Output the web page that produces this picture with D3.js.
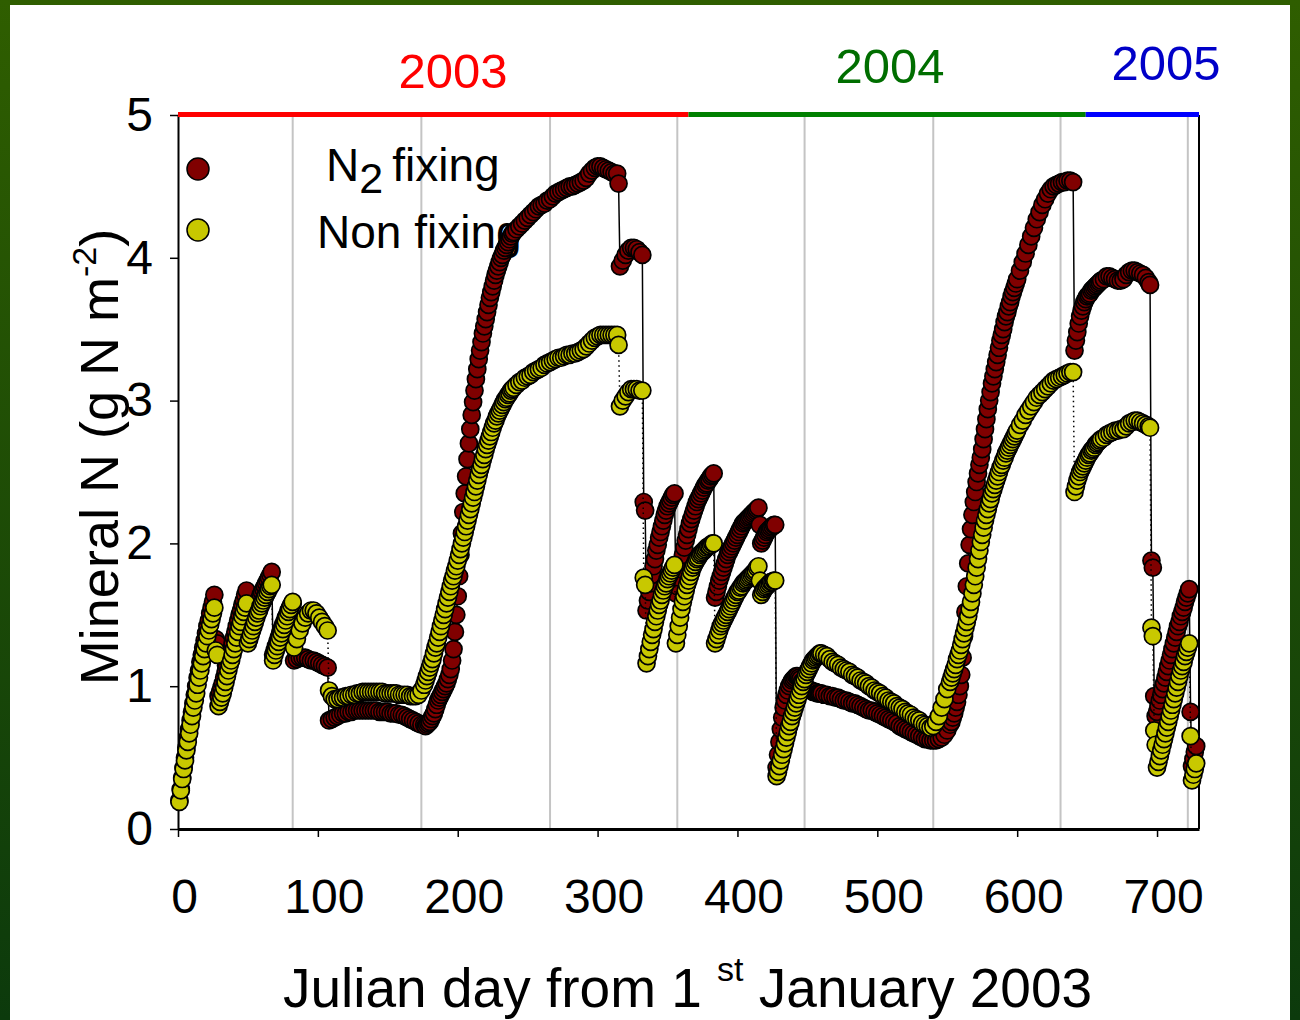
<!doctype html>
<html lang="en">
<head>
  <meta charset="utf-8">
  <title>Mineral N, N2 fixing vs non fixing</title>
  <script src="https://cdn.jsdelivr.net/npm/d3@7"></script>
  <style>
    body { margin: 0; background: #fff; }
    svg { display: block; font-family: "Liberation Sans", Arial, sans-serif; }
  </style>
</head>
<body>
<svg width="1300" height="1020"></svg>
<script>
// ---- data ----
// julian day from 1st Jan 2003; daily in steep parts, every 2nd day in flat parts
const days = [
  1,2,3,4,5,6,7,8,9,10,11,12,13,14,15,16,17,18,19,20,21,22,23,24,25,26,
  27,28,
  29,30,31,32,33,34,35,36,37,38,39,40,41,42,43,44,45,46,47,48,49,
  50,51,52,53,54,55,56,57,58,59,60,61,62,63,64,65,66,67,
  68,69,70,71,72,73,74,75,76,77,78,79,80,81,82,
  83,85,87,89,91,93,95,97,99,101,103,105,107,
  108,110,112,114,116,118,120,122,124,126,128,130,132,134,136,138,140,142,144,146,148,150,152,154,156,158,160,162,164,166,168,170,172,174,176,
  177,178,179,180,181,182,183,184,185,186,187,188,189,190,191,192,193,194,195,196,197,198,199,200,
  201,202,203,204,205,206,207,208,209,210,211,212,213,214,215,216,217,218,219,220,
  221,222,223,224,225,226,227,228,229,230,231,232,233,234,235,236,237,238,239,240,
  242,244,246,248,250,252,254,256,258,260,262,264,266,268,270,272,274,276,278,280,
  282,284,286,288,290,292,294,296,298,300,302,304,306,308,310,312,314,315,
  316,318,320,322,324,326,328,330,332,
  333,334,
  335,336,337,338,339,340,341,342,343,344,345,346,347,348,349,350,351,352,353,354,355,
  356,357,358,359,360,361,362,363,364,365,366,367,368,369,370,371,372,373,374,375,376,377,378,379,380,381,382,383,
  384,385,386,387,388,389,390,391,392,393,394,395,396,397,398,399,400,401,402,403,404,405,406,407,408,409,410,411,412,413,414,415,
  416,
  417,418,419,420,421,422,423,424,425,426,427,
  428,429,430,431,432,433,434,435,436,437,438,439,440,441,442,443,444,445,446,447,448,449,450,451,452,453,454,455,456,457,458,459,460,
  462,464,466,468,470,472,474,476,478,480,482,484,486,488,490,492,494,496,498,500,502,504,506,508,510,
  512,514,516,518,520,522,524,526,528,530,532,534,536,538,540,542,544,546,548,550,552,
  553,554,555,556,557,558,559,560,561,562,563,564,565,566,567,568,569,570,571,572,573,574,575,576,
  577,578,579,580,581,582,583,584,585,586,587,588,589,590,591,592,593,594,595,596,597,598,599,600,
  602,604,606,608,610,612,614,616,618,620,622,624,626,628,630,632,634,636,638,640,
  641,642,643,644,645,646,647,648,649,650,651,652,653,654,655,656,657,658,659,660,
  662,664,666,668,670,672,674,676,678,680,682,684,686,688,690,692,694,695,
  696,697,698,699,
  700,701,702,703,704,705,706,707,708,709,710,711,712,713,714,715,716,717,718,719,720,721,722,723,
  724,725,726,727,728
];

// mineral N under the N2 fixing crop (g N m-2)
const n2Fixing = [
  0.20,0.28,0.36,0.43,0.50,0.57,0.64,0.70,0.76,0.82,0.88,0.94,1.00,1.06,1.11,1.17,1.22,1.27,1.32,1.37,1.42,1.46,1.51,1.55,1.59,1.64,
  1.33,1.30,
  0.93,0.96,0.99,1.02,1.06,1.10,1.14,1.18,1.22,1.26,1.30,1.34,1.38,1.42,1.46,1.50,1.53,1.57,1.60,1.64,1.67,
  1.38,1.41,1.44,1.47,1.50,1.53,1.56,1.59,1.61,1.64,1.66,1.68,1.70,1.72,1.74,1.76,1.78,1.80,
  1.22,1.25,1.28,1.31,1.34,1.37,1.40,1.43,1.45,1.48,1.50,1.53,1.55,1.57,1.58,
  1.18,1.19,1.20,1.20,1.20,1.19,1.18,1.18,1.17,1.16,1.15,1.14,1.13,
  0.76,0.77,0.78,0.79,0.80,0.81,0.81,0.82,0.82,0.83,0.83,0.83,0.83,0.83,0.83,0.83,0.83,0.83,0.82,0.82,0.82,0.82,0.81,0.81,0.81,0.80,0.80,0.79,0.78,0.77,0.76,0.75,0.74,0.73,0.73,
  0.72,0.73,0.74,0.75,0.77,0.79,0.81,0.84,0.87,0.90,0.92,0.94,0.96,0.98,1.00,1.02,1.05,1.08,1.12,1.18,1.26,1.38,1.50,1.63,
  1.77,1.92,2.07,2.22,2.35,2.47,2.59,2.70,2.80,2.90,2.99,3.07,3.15,3.22,3.29,3.35,3.41,3.47,3.52,3.57,
  3.62,3.67,3.72,3.76,3.80,3.84,3.88,3.91,3.94,3.97,4.00,4.02,4.05,4.07,4.09,4.11,4.13,4.15,4.17,4.18,
  4.20,4.22,4.24,4.26,4.28,4.30,4.32,4.34,4.36,4.37,4.38,4.40,4.41,4.43,4.45,4.46,4.47,4.48,4.49,4.50,
  4.50,4.51,4.52,4.53,4.54,4.56,4.59,4.61,4.63,4.64,4.64,4.63,4.62,4.61,4.60,4.59,4.59,4.52,
  3.94,3.98,4.02,4.05,4.07,4.07,4.06,4.04,4.02,
  2.29,2.23,
  1.53,1.60,1.66,1.72,1.78,1.84,1.89,1.95,1.99,2.04,2.08,2.12,2.16,2.20,2.23,2.26,2.28,2.30,2.32,2.34,2.35,
  1.65,1.70,1.76,1.82,1.87,1.92,1.97,2.02,2.06,2.10,2.14,2.17,2.20,2.23,2.26,2.29,2.31,2.33,2.35,2.37,2.39,2.41,2.42,2.44,2.45,2.47,2.48,2.49,
  1.62,1.66,1.70,1.74,1.77,1.80,1.83,1.86,1.89,1.92,1.94,1.96,1.98,2.00,2.02,2.04,2.06,2.08,2.10,2.12,2.14,2.15,2.16,2.17,2.18,2.19,2.20,2.21,2.22,2.23,2.24,2.25,
  2.13,
  2.00,2.02,2.04,2.06,2.08,2.09,2.10,2.11,2.12,2.13,2.13,
  0.43,0.52,0.61,0.70,0.78,0.85,0.90,0.94,0.97,1.00,1.02,1.04,1.05,1.06,1.07,1.07,1.06,1.05,1.03,1.01,1.00,0.99,0.98,0.98,0.97,0.97,0.96,0.96,0.96,0.95,0.95,0.95,0.95,
  0.94,0.94,0.93,0.93,0.92,0.92,0.91,0.90,0.90,0.89,0.88,0.88,0.87,0.86,0.85,0.84,0.83,0.83,0.82,0.81,0.80,0.79,0.78,0.77,0.76,
  0.75,0.74,0.72,0.71,0.70,0.69,0.68,0.67,0.66,0.65,0.64,0.63,0.63,0.62,0.62,0.62,0.63,0.64,0.66,0.69,0.73,
  0.75,0.78,0.81,0.85,0.89,0.94,1.00,1.08,1.20,1.35,1.52,1.70,1.86,1.99,2.10,2.20,2.29,2.36,2.43,2.49,2.55,2.60,2.66,2.73,
  2.80,2.87,2.94,3.00,3.06,3.12,3.17,3.22,3.27,3.32,3.37,3.42,3.46,3.50,3.55,3.59,3.62,3.66,3.69,3.73,3.76,3.79,3.82,3.85,
  3.91,3.97,4.03,4.09,4.15,4.21,4.27,4.32,4.37,4.41,4.45,4.48,4.50,4.51,4.52,4.53,4.53,4.54,4.54,4.53,
  3.35,3.42,3.48,3.54,3.59,3.63,3.66,3.69,3.71,3.73,3.74,3.75,3.77,3.78,3.79,3.80,3.81,3.82,3.83,3.84,
  3.85,3.87,3.87,3.86,3.85,3.84,3.84,3.85,3.88,3.90,3.91,3.91,3.90,3.89,3.88,3.86,3.83,3.81,
  1.88,1.83,0.93,0.79,
  0.82,0.86,0.90,0.94,0.98,1.02,1.06,1.10,1.14,1.18,1.22,1.26,1.30,1.34,1.38,1.42,1.45,1.49,1.52,1.55,1.59,1.62,1.65,1.68,
  0.82,0.44,0.49,0.54,0.58
];

// mineral N under the non fixing crop (g N m-2)
const nonFixing = [
  0.19,0.27,0.35,0.42,0.48,0.55,0.61,0.67,0.73,0.79,0.85,0.90,0.95,1.01,1.06,1.11,1.16,1.21,1.26,1.30,1.35,1.39,1.43,1.47,1.51,1.55,
  1.25,1.22,
  0.86,0.89,0.92,0.95,0.99,1.03,1.07,1.11,1.15,1.18,1.22,1.26,1.30,1.34,1.38,1.42,1.45,1.49,1.52,1.55,1.58,
  1.30,1.33,1.36,1.39,1.42,1.45,1.48,1.51,1.53,1.56,1.58,1.60,1.62,1.64,1.66,1.68,1.70,1.71,
  1.18,1.22,1.25,1.28,1.31,1.34,1.37,1.40,1.43,1.46,1.49,1.52,1.54,1.57,1.59,
  1.27,1.33,1.39,1.44,1.48,1.51,1.53,1.53,1.51,1.48,1.45,1.42,1.39,
  0.97,0.93,0.91,0.91,0.92,0.92,0.93,0.93,0.94,0.94,0.95,0.95,0.96,0.96,0.96,0.96,0.96,0.96,0.96,0.96,0.95,0.95,0.95,0.95,0.95,0.94,0.94,0.94,0.94,0.93,0.93,0.93,0.94,0.97,1.01,
  1.04,1.07,1.10,1.13,1.16,1.19,1.23,1.27,1.30,1.34,1.38,1.42,1.46,1.50,1.54,1.58,1.62,1.66,1.70,1.74,1.77,1.81,1.84,1.88,
  1.92,1.96,2.00,2.04,2.08,2.12,2.16,2.20,2.24,2.28,2.32,2.36,2.40,2.44,2.48,2.52,2.55,2.59,2.62,2.66,
  2.69,2.72,2.75,2.78,2.81,2.84,2.86,2.89,2.91,2.93,2.95,2.97,2.99,3.01,3.02,3.04,3.05,3.07,3.08,3.09,
  3.11,3.13,3.14,3.16,3.17,3.18,3.20,3.21,3.22,3.23,3.25,3.26,3.27,3.28,3.29,3.30,3.30,3.31,3.32,3.32,
  3.33,3.33,3.34,3.35,3.36,3.38,3.40,3.42,3.44,3.45,3.46,3.46,3.46,3.46,3.46,3.46,3.46,3.39,
  2.96,3.00,3.03,3.06,3.08,3.08,3.08,3.07,3.07,
  1.76,1.71,
  1.16,1.21,1.26,1.31,1.36,1.40,1.45,1.49,1.53,1.57,1.60,1.64,1.67,1.70,1.72,1.75,1.77,1.79,1.81,1.83,1.85,
  1.30,1.36,1.42,1.48,1.54,1.59,1.63,1.67,1.71,1.74,1.77,1.80,1.83,1.85,1.87,1.89,1.90,1.92,1.93,1.94,1.95,1.96,1.97,1.98,1.98,1.99,2.00,2.00,
  1.30,1.33,1.36,1.39,1.42,1.44,1.46,1.48,1.50,1.52,1.54,1.56,1.58,1.60,1.62,1.64,1.66,1.67,1.69,1.70,1.72,1.73,1.74,1.75,1.76,1.77,1.78,1.79,1.80,1.81,1.83,1.84,
  1.74,
  1.64,1.66,1.68,1.69,1.70,1.71,1.72,1.73,1.73,1.74,1.74,
  0.37,0.40,0.44,0.48,0.52,0.56,0.60,0.64,0.68,0.72,0.75,0.79,0.82,0.85,0.88,0.91,0.94,0.97,1.00,1.03,1.05,1.08,1.10,1.12,1.14,1.16,1.18,1.19,1.20,1.21,1.22,1.23,1.23,
  1.22,1.21,1.19,1.17,1.16,1.15,1.13,1.12,1.11,1.10,1.08,1.07,1.06,1.04,1.03,1.02,1.00,0.99,0.97,0.96,0.95,0.93,0.92,0.90,0.89,
  0.88,0.86,0.85,0.84,0.82,0.81,0.80,0.78,0.77,0.76,0.74,0.73,0.72,0.71,0.72,0.75,0.79,0.85,0.91,0.98,1.03,
  1.06,1.09,1.12,1.15,1.19,1.22,1.25,1.29,1.33,1.37,1.41,1.45,1.49,1.54,1.59,1.65,1.71,1.77,1.83,1.89,1.95,2.01,2.06,2.11,
  2.16,2.20,2.24,2.28,2.31,2.35,2.38,2.41,2.44,2.47,2.50,2.53,2.55,2.58,2.60,2.63,2.65,2.67,2.69,2.71,2.73,2.75,2.77,2.79,
  2.83,2.86,2.90,2.93,2.96,2.99,3.02,3.04,3.06,3.08,3.10,3.12,3.14,3.15,3.16,3.17,3.18,3.19,3.20,3.20,
  2.36,2.40,2.44,2.47,2.50,2.52,2.54,2.56,2.58,2.60,2.62,2.63,2.65,2.66,2.67,2.69,2.70,2.71,2.72,2.73,
  2.74,2.76,2.77,2.78,2.79,2.79,2.80,2.80,2.82,2.84,2.85,2.86,2.86,2.85,2.84,2.83,2.82,2.81,
  1.41,1.35,0.69,0.59,
  0.43,0.47,0.51,0.55,0.59,0.63,0.67,0.71,0.75,0.79,0.83,0.87,0.91,0.95,0.99,1.03,1.07,1.11,1.14,1.17,1.21,1.24,1.27,1.30,
  0.65,0.34,0.38,0.42,0.46
];

const xTicks = [0, 100, 200, 300, 400, 500, 600, 700];
const yTicks = [0, 1, 2, 3, 4, 5];
const gridDays = [82, 174, 266, 357, 448, 540, 631, 722];   // light grey verticals
const yearNames = ["2003", "2004", "2005"];
const yearStart = [0, 365, 649];
const yearEnd = [365, 649, 730];
const yearBarColors = ["#ff0000", "#008000", "#0000ff"];
const yearTextColors = ["#ff0000", "#006e00", "#0000c8"];

if (days.length !== n2Fixing.length || days.length !== nonFixing.length)
  console.error("length mismatch", days.length, n2Fixing.length, nonFixing.length);

const svg = d3.select("svg");

// green slide frame
const grad = svg.append("defs").append("linearGradient")
  .attr("id", "frame").attr("x1", 0).attr("y1", 0).attr("x2", 0).attr("y2", 1);
grad.append("stop").attr("offset", "0%").attr("stop-color", "#2f5e00");
grad.append("stop").attr("offset", "100%").attr("stop-color", "#0c3a0c");
svg.append("rect").attr("width", 1300).attr("height", 1020).attr("fill", "url(#frame)");
svg.append("rect").attr("x", 10).attr("y", 5).attr("width", 1280).attr("height", 1015).attr("fill", "#fff");

const x = d3.scaleLinear().domain([0, 730]).range([178, 1199]);
const y = d3.scaleLinear().domain([0, 5]).range([829, 115]);

// grey verticals
svg.append("g").selectAll("line").data(gridDays).enter().append("line")
  .attr("x1", d => x(d)).attr("x2", d => x(d))
  .attr("y1", y(5)).attr("y2", y(0))
  .style("stroke", "#c4c4c4").style("stroke-width", 2);

// axes
const xAxis = svg.append("g").attr("transform", `translate(0,${y(0)})`)
  .call(d3.axisBottom(x).tickValues(xTicks).tickFormat(d3.format("d"))
    .tickSize(8).tickSizeOuter(0).tickPadding(42));
xAxis.select(".domain").style("stroke", "#000").style("stroke-width", 3);
xAxis.selectAll(".tick line").style("stroke-width", 1.5);
xAxis.selectAll("text").attr("x", 6).style("font-size", "48px")
  .style("font-family", "Liberation Sans, Arial, sans-serif").attr("fill", "#000");

const yAxis = svg.append("g").attr("transform", `translate(${x(0)},0)`)
  .call(d3.axisLeft(y).tickValues(yTicks).tickFormat(d3.format("d"))
    .tickSize(8).tickSizeOuter(0).tickPadding(17));
yAxis.select(".domain").style("stroke", "#000").style("stroke-width", 2);
yAxis.selectAll(".tick line").style("stroke-width", 1.5);
yAxis.selectAll("text").style("font-size", "48px")
  .style("font-family", "Liberation Sans, Arial, sans-serif").attr("fill", "#000");

svg.append("line").attr("x1", x(730)).attr("x2", x(730)).attr("y1", y(5)).attr("y2", y(0))
  .style("stroke", "#000").style("stroke-width", 2);

// legend (sits under the data)
const legend = svg.append("g");
legend.append("circle").attr("cx", 198).attr("cy", 169).attr("r", 11)
  .style("fill", "#800000").style("stroke", "#000").style("stroke-width", 1.5);
legend.append("circle").attr("cx", 198).attr("cy", 230).attr("r", 11)
  .style("fill", "#c8c800").style("stroke", "#000").style("stroke-width", 1.5);
const l1 = legend.append("text").attr("x", 326).attr("y", 181).style("font-size", "46px");
l1.append("tspan").text("N");
l1.append("tspan").attr("dy", 12).style("font-size", "43px").text("2");
l1.append("tspan").attr("dy", -12).attr("dx", 9).text("fixing");
legend.append("text").attr("x", 317).attr("y", 248).style("font-size", "46px").text("Non fixing");

// series
const red = days.map((d, i) => ({ day: d, v: n2Fixing[i] }));
const yel = days.map((d, i) => ({ day: d, v: nonFixing[i] }));
const line = d3.line().x(d => x(d.day)).y(d => y(d.v));

svg.append("path").datum(red).attr("d", line)
  .style("fill", "none").style("stroke", "#000").style("stroke-width", 1.5);
svg.append("g").selectAll("circle").data(red).enter().append("circle")
  .attr("cx", d => x(d.day)).attr("cy", d => y(d.v)).attr("r", 8.5)
  .style("fill", "#800000").style("stroke", "#000").style("stroke-width", 1.7);

svg.append("path").datum(yel).attr("d", line)
  .style("fill", "none").style("stroke", "#000").style("stroke-width", 1.5)
  .style("stroke-dasharray", "1.5,3.5");
svg.append("g").selectAll("circle").data(yel).enter().append("circle")
  .attr("cx", d => x(d.day)).attr("cy", d => y(d.v)).attr("r", 8.5)
  .style("fill", "#c8c800").style("stroke", "#000").style("stroke-width", 1.7);

// year bars across the top
svg.append("g").selectAll("rect").data(yearNames).enter().append("rect")
  .attr("x", (d, i) => x(yearStart[i])).attr("y", 112)
  .attr("width", (d, i) => x(yearEnd[i]) - x(yearStart[i])).attr("height", 5)
  .style("fill", (d, i) => yearBarColors[i]);

const yearX = [453, 890, 1166];
const yearY = [88, 83, 80];
svg.append("g").selectAll("text").data(yearNames).enter().append("text")
  .attr("x", (d, i) => yearX[i]).attr("y", (d, i) => yearY[i])
  .attr("text-anchor", "middle").style("font-size", "49px")
  .style("fill", (d, i) => yearTextColors[i]).text(d => d);

// axis titles
const xt = svg.append("text").attr("x", 283).attr("y", 1007)
  .style("font-size", "55px").style("white-space", "pre");
xt.append("tspan").text("Julian day from 1 ");
xt.append("tspan").attr("dy", -26).style("font-size", "34px").text("st");
xt.append("tspan").attr("dy", 26).text(" January 2003");

const yt = svg.append("text").attr("transform", "translate(118,457) rotate(-90)")
  .attr("text-anchor", "middle").style("font-size", "54px");
yt.append("tspan").text("Mineral N (g N m");
yt.append("tspan").attr("dy", -22).style("font-size", "34px").text("-2");
yt.append("tspan").attr("dy", 22).text(")");
</script>
</body>
</html>
